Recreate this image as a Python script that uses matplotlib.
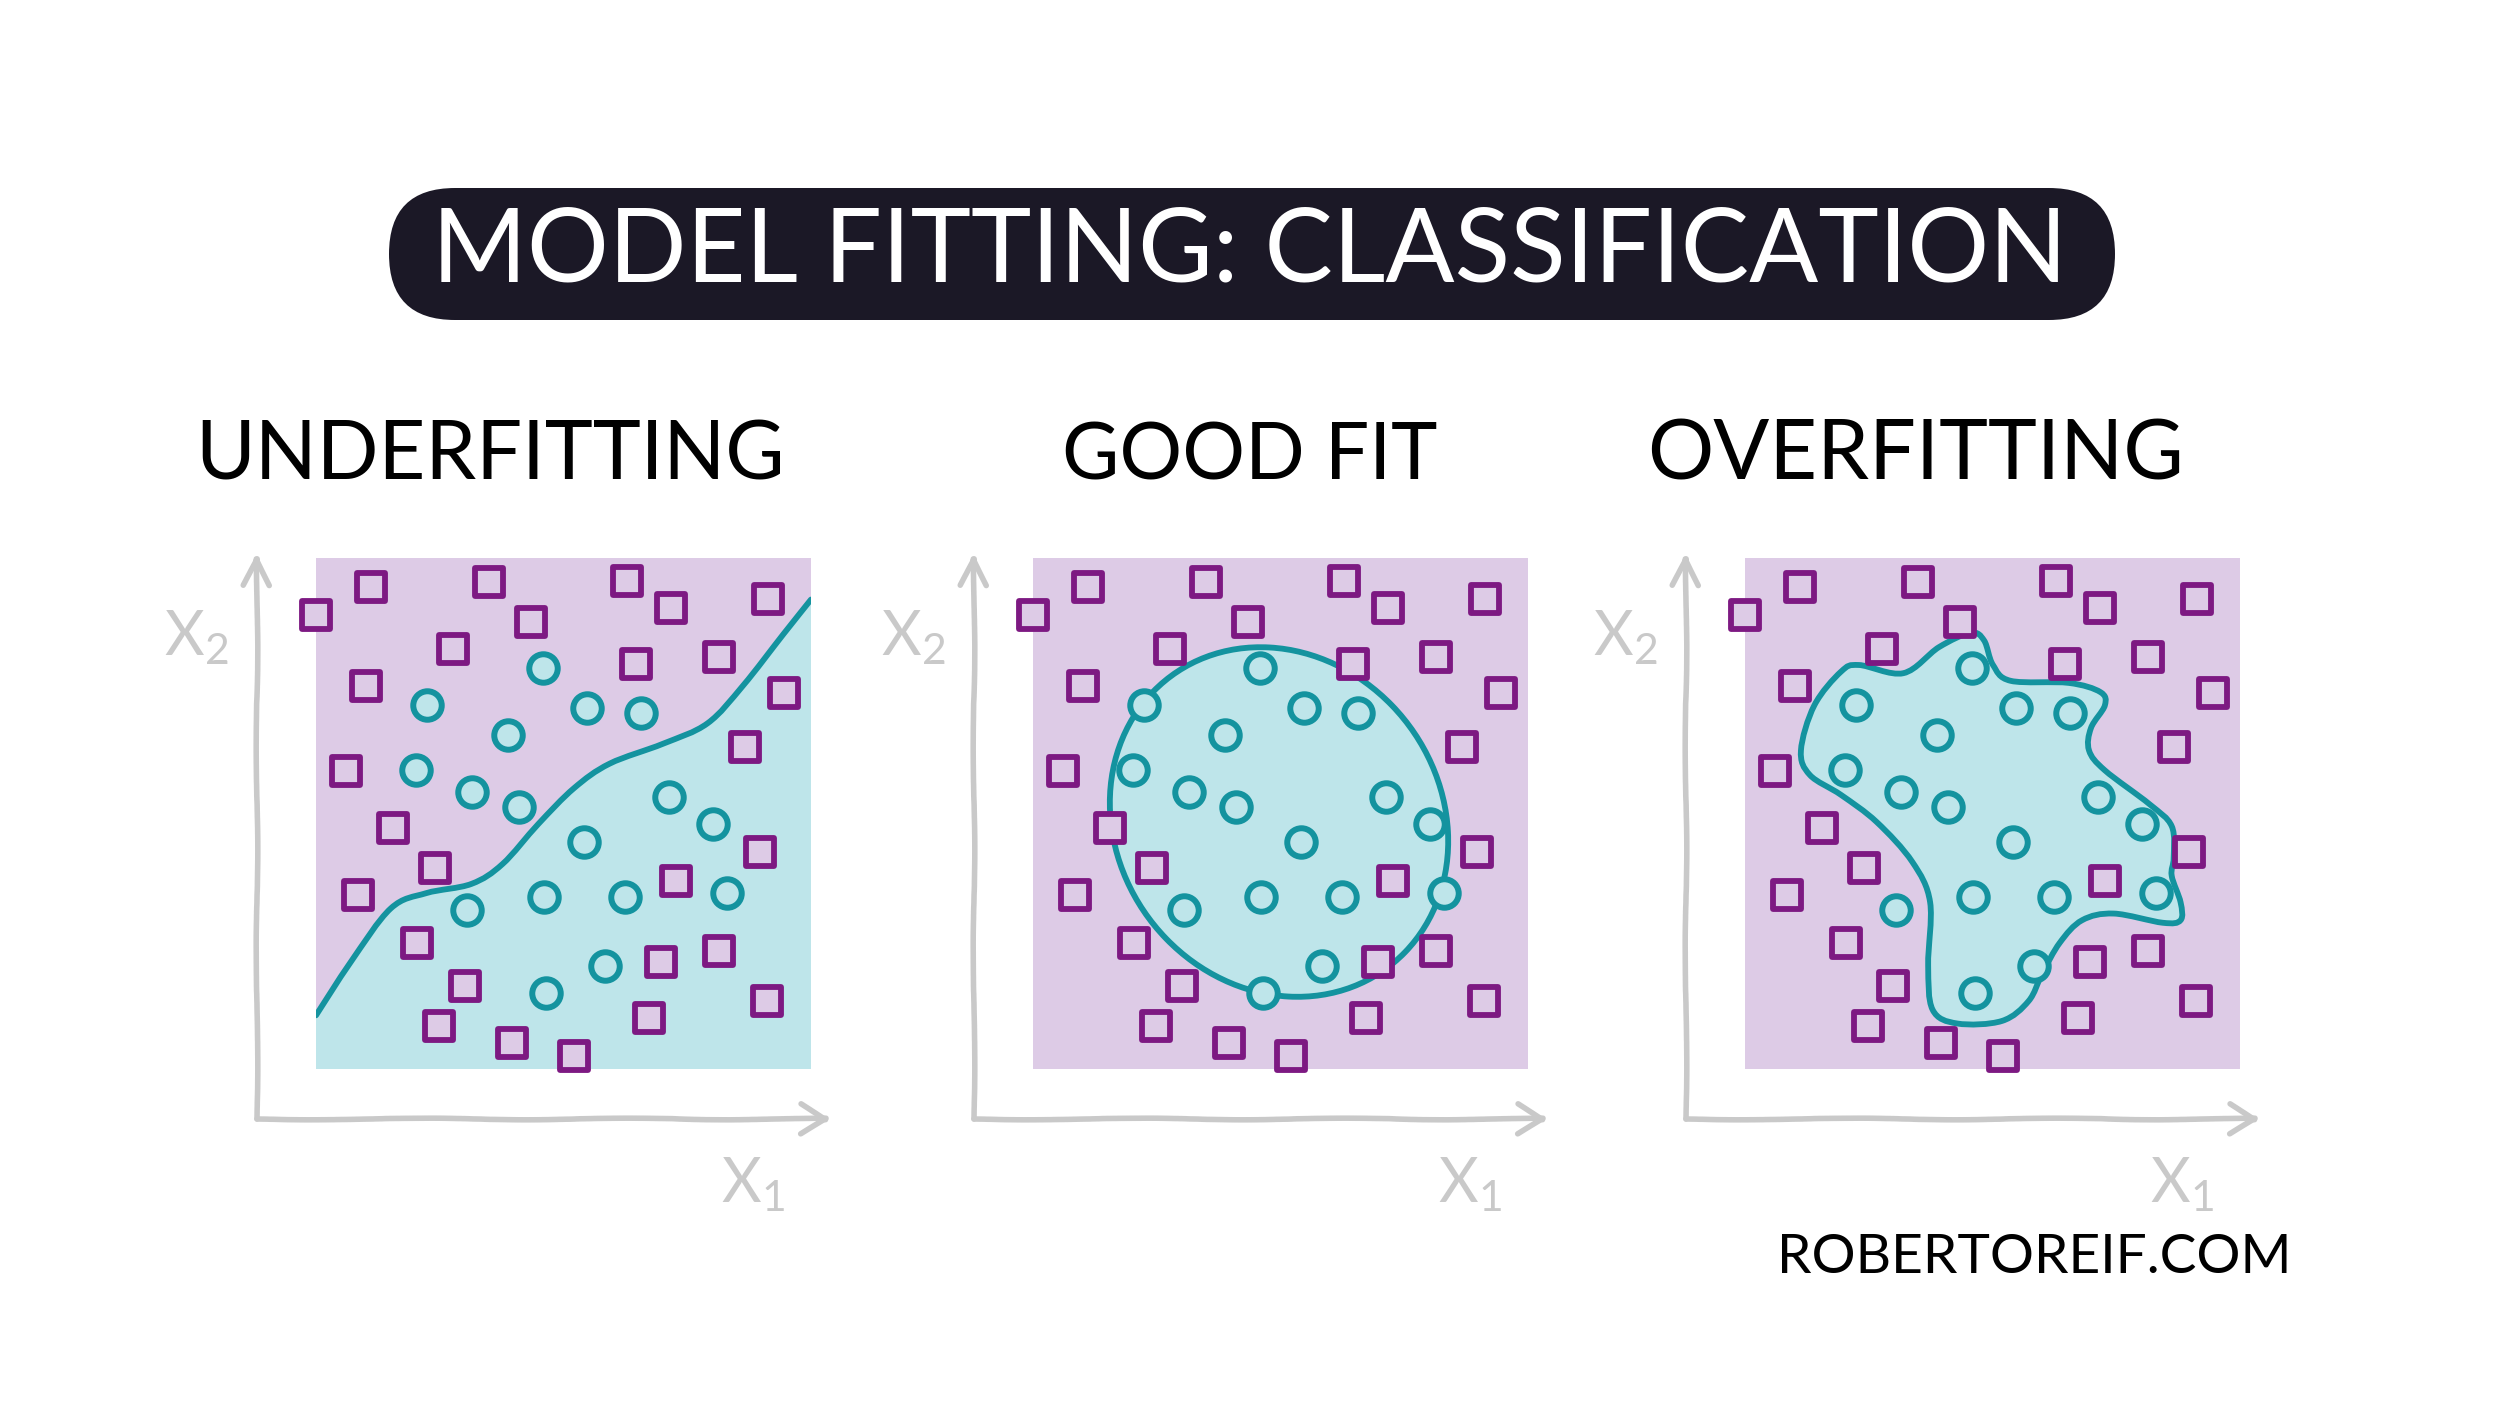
import numpy as np
import matplotlib
matplotlib.use("Agg")
import matplotlib.pyplot as plt
from matplotlib.path import Path
from matplotlib.patches import PathPatch, Ellipse, FancyBboxPatch, Rectangle
from matplotlib.markers import MarkerStyle

# point positions, in panel units (the shaded square is 0..10 on both axes)
square_x = [0.00, 1.11, 3.50, 4.35, 6.29, 7.17, 9.13, 2.77, 6.47, 8.14,
            1.02, 9.46, 8.66, 0.61, 1.56, 2.41, 0.84, 8.97, 7.28, 2.04,
            8.14, 6.96, 3.00, 9.11, 6.72, 2.49, 3.96, 5.21]
square_y = [8.87, 9.42, 9.52, 8.74, 9.55, 9.02, 9.20, 8.21, 7.92, 8.06,
            7.48, 7.35, 6.29, 5.82, 4.71, 3.94, 3.40, 4.25, 3.68, 2.46,
            2.31, 2.09, 1.63, 1.33, 1.00, 0.85, 0.51, 0.26]
circle_x = [4.59, 2.25, 5.48, 6.56, 3.88, 2.03, 3.15, 4.11, 7.13, 8.02,
            5.41, 3.05, 4.60, 6.25, 8.30, 5.84, 4.64]
circle_y = [7.85, 7.11, 7.06, 6.97, 6.54, 5.84, 5.41, 5.13, 5.32, 4.80,
            4.43, 3.10, 3.37, 3.37, 3.44, 2.02, 1.48]

# decision boundaries
under_x = [0.00, 0.70, 1.51, 2.23, 3.14, 3.77, 4.49, 5.21, 5.93, 7.01, 7.91, 8.63, 9.44, 10.0]
under_y = [1.05, 2.09, 3.14, 3.44, 3.62, 4.01, 4.79, 5.49, 5.97, 6.36, 6.76, 7.50, 8.50, 9.18]

good_center = (4.97, 4.83)
good_width = 7.2
good_height = 6.45
good_angle = -45

over_x = [1.13, 1.40, 1.94, 2.30, 3.20, 3.92, 4.56, 4.83, 5.01, 5.37, 6.54, 7.18, 7.27,
          6.99, 6.95, 7.27, 8.17, 8.62, 8.66, 8.62, 8.80, 8.80, 8.44, 7.45, 6.81, 6.36,
          6.00, 5.73, 5.19, 4.29, 3.79, 3.70, 3.74, 3.38, 2.66, 1.94, 1.31]
over_y = [6.23, 7.11, 7.77, 7.90, 7.74, 8.25, 8.53, 8.38, 7.90, 7.59, 7.55, 7.37, 7.11,
          6.67, 6.23, 5.84, 5.18, 4.75, 4.13, 3.78, 3.26, 2.91, 2.86, 3.04, 2.91, 2.47,
          1.86, 1.33, 0.94, 0.89, 1.16, 2.03, 3.26, 4.05, 4.83, 5.36, 5.75]

panel_titles = ["UNDERFITTING", "GOOD FIT", "OVERFITTING"]
main_title = "MODEL FITTING: CLASSIFICATION"
credit = "ROBERTOREIF.COM"

PURPLE_BG = "#ddcbe6"
CYAN_BG = "#bee5ea"
SQ_EDGE = "#7d1982"
TEAL = "#14939f"
GREY = "#c9c9c9"
DARK = "#1b1826"
FONT = ["Lato", "DejaVu Sans"]


def smooth_path(xs, ys, closed=False):
    # Catmull-Rom through the read points, drawn as cubic Bezier segments
    pts = np.column_stack([xs, ys]).astype(float)
    n = len(pts)
    if closed:
        P = np.vstack([pts[-1], pts, pts[0], pts[1]])
        nseg = n
    else:
        P = np.vstack([pts[0], pts, pts[-1]])
        nseg = n - 1
    verts = [P[1]]
    codes = [Path.MOVETO]
    for i in range(1, nseg + 1):
        p0, p1, p2, p3 = P[i - 1], P[i], P[i + 1], P[i + 2]
        verts += [p1 + (p2 - p0) / 6, p2 - (p3 - p1) / 6, p2]
        codes += [Path.CURVE4] * 3
    if closed:
        verts.append(verts[0])
        codes.append(Path.CLOSEPOLY)
    return verts, codes


fig = plt.figure(figsize=(25, 14.07), dpi=100)
fig.patch.set_facecolor("white")

# overlay in pixel units for the title block and headings
over = fig.add_axes([0, 0, 1, 1])
over.set_xlim(0, 2500)
over.set_ylim(1407, 0)
over.axis("off")
over.set_zorder(-1)

over.add_patch(FancyBboxPatch((389, 188), 1726, 132,
                              boxstyle="round,pad=0,rounding_size=66",
                              fc=DARK, ec="none"))
t_main = over.text(1250, 281, main_title, color="white", ha="center",
                   va="baseline", fontsize=60, family=FONT)
t_subs = []
for cx, name in zip([490, 1250, 1916], panel_titles):
    t_subs.append(over.text(cx, 480, name, color="black", ha="center",
                            va="baseline", fontsize=50, family=FONT))
t_credit = over.text(2034, 1273, credit, color="black", ha="center",
                     va="baseline", fontsize=30, family=FONT)

lefts = [0.1264, 0.4132, 0.698]
mk_sq = MarkerStyle("s", joinstyle="round")
mk_ci = MarkerStyle("o")

for k, left in enumerate(lefts):
    ax = fig.add_axes([left, 0.2402, 0.198, 0.3635])
    ax.set_xlim(0, 10)
    ax.set_ylim(0, 10)
    ax.axis("off")
    ax.add_patch(Rectangle((0, 0), 10, 10, fc=PURPLE_BG, ec="none", zorder=0))

    if k == 0:
        verts, codes = smooth_path(under_x, under_y)
        fill_v = verts + [(10, under_y[-1]), (10, 0), (0, 0), verts[0]]
        fill_c = codes + [Path.LINETO, Path.LINETO, Path.LINETO, Path.CLOSEPOLY]
        ax.add_patch(PathPatch(Path(fill_v, fill_c), fc=CYAN_BG, ec="none", zorder=1))
        ax.add_patch(PathPatch(Path(verts, codes), fc="none", ec=TEAL, lw=4.2,
                               capstyle="round", zorder=2))
    elif k == 1:
        ax.add_patch(Ellipse(good_center, good_width, good_height, angle=good_angle,
                             fc=CYAN_BG, ec=TEAL, lw=4.2, zorder=2))
    else:
        verts, codes = smooth_path(over_x, over_y, closed=True)
        ax.add_patch(PathPatch(Path(verts, codes), fc=CYAN_BG, ec=TEAL, lw=4.2,
                               joinstyle="round", zorder=2))

    ax.plot(square_x, square_y, ls="none", marker=mk_sq, ms=19.5, mew=4.2,
            mec=SQ_EDGE, mfc=PURPLE_BG, clip_on=False, zorder=5)
    ax.plot(circle_x, circle_y, ls="none", marker=mk_ci, ms=20.5, mew=4.3,
            mec=TEAL, mfc=CYAN_BG, clip_on=False, zorder=5)

    # hand-drawn style axes with open arrow heads
    lines = []
    lines += ax.plot([-1.2, -1.2], [-0.98, 9.98], color=GREY, lw=4.0)
    lines += ax.plot([-1.2, 10.3], [-0.98, -0.98], color=GREY, lw=4.0)
    lines += ax.plot([-1.47, -1.2, -0.93], [9.46, 9.98, 9.46], color=GREY, lw=4.0)
    lines += ax.plot([9.8, 10.3, 9.8], [-0.68, -0.98, -1.28], color=GREY, lw=4.0)
    for ln in lines:
        ln.set_clip_on(False)
        ln.set_solid_capstyle("round")
        ln.set_solid_joinstyle("round")
        ln.set_sketch_params(scale=0.8, length=300, randomness=4)

    ax.text(-2.42, 8.44, r"$\mathregular{X_2}$", color=GREY, fontsize=44,
            ha="center", va="center", family=FONT)
    ax.text(8.83, -2.27, r"$\mathregular{X_1}$", color=GREY, fontsize=44,
            ha="center", va="center", family=FONT)

# size the headings to the widths they take in the picture
renderer = fig.canvas.get_renderer()
for t, width in [(t_main, 1635), (t_subs[0], 591), (t_subs[1], 376),
                 (t_subs[2], 537), (t_credit, 513)]:
    w = t.get_window_extent(renderer).width
    t.set_fontsize(t.get_fontsize() * width / w)

fig.savefig("out.png", dpi=100, facecolor="white")
